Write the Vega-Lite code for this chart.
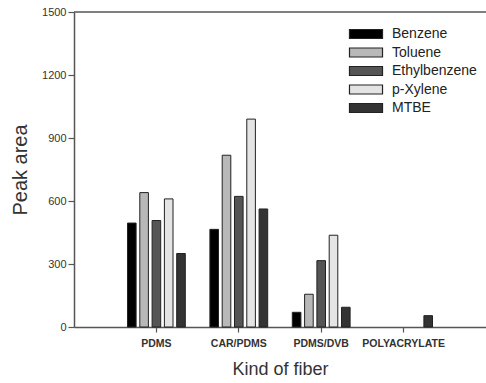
{
  "$schema": "https://vega.github.io/schema/vega-lite/v6.json",
  "width": 412,
  "height": 315,
  "autosize": {"type": "none"},
  "padding": {"left": 74, "top": 12, "right": 0, "bottom": 56},
  "background": "white",
  "config": {
    "view": {"stroke": null},
    "font": "Liberation Sans",
    "axis": {"grid": false, "domainColor": "#555", "domainWidth": 1.5, "tickColor": "#555", "tickWidth": 1.2, "labelColor": "#333", "titleColor": "#333", "titleFontWeight": "normal", "labelFont": "Liberation Sans", "titleFont": "Liberation Sans"}
  },
  "layer": [
    {
      "data": {"values": [
        {"fiber": "PDMS", "compound": "Benzene", "area": 495},
        {"fiber": "PDMS", "compound": "Toluene", "area": 640},
        {"fiber": "PDMS", "compound": "Ethylbenzene", "area": 507},
        {"fiber": "PDMS", "compound": "p-Xylene", "area": 610},
        {"fiber": "PDMS", "compound": "MTBE", "area": 350},
        {"fiber": "CAR/PDMS", "compound": "Benzene", "area": 465},
        {"fiber": "CAR/PDMS", "compound": "Toluene", "area": 818},
        {"fiber": "CAR/PDMS", "compound": "Ethylbenzene", "area": 622},
        {"fiber": "CAR/PDMS", "compound": "p-Xylene", "area": 990},
        {"fiber": "CAR/PDMS", "compound": "MTBE", "area": 562},
        {"fiber": "PDMS/DVB", "compound": "Benzene", "area": 70},
        {"fiber": "PDMS/DVB", "compound": "Toluene", "area": 156},
        {"fiber": "PDMS/DVB", "compound": "Ethylbenzene", "area": 316},
        {"fiber": "PDMS/DVB", "compound": "p-Xylene", "area": 437},
        {"fiber": "PDMS/DVB", "compound": "MTBE", "area": 94},
        {"fiber": "POLYACRYLATE", "compound": "MTBE", "area": 54}
      ]},
      "mark": {"type": "bar", "stroke": "#222", "strokeWidth": 1},
      "encoding": {
        "x": {
          "field": "fiber", "type": "nominal",
          "scale": {"domain": ["PDMS", "CAR/PDMS", "PDMS/DVB", "POLYACRYLATE"], "paddingInner": 0, "paddingOuter": 0.5},
          "axis": {"title": "Kind of fiber", "labelAngle": 0, "labelFontSize": 10.5, "labelFontWeight": "bold", "tickSize": 5, "labelPadding": 6, "titleFontSize": 18, "titlePadding": 12}
        },
        "xOffset": {
          "field": "compound", "type": "nominal",
          "scale": {"domain": ["Benzene", "Toluene", "Ethylbenzene", "p-Xylene", "MTBE"], "paddingInner": 0.3, "paddingOuter": 1.77}
        },
        "y": {
          "field": "area", "type": "quantitative",
          "scale": {"domain": [0, 1500], "nice": false},
          "axis": {"title": "Peak area", "values": [0, 300, 600, 900, 1200, 1500], "format": "d", "labelFontSize": 11, "tickSize": 6, "labelPadding": 2, "titleFontSize": 20, "titlePadding": 11}
        },
        "color": {
          "field": "compound", "type": "nominal",
          "scale": {"domain": ["Benzene", "Toluene", "Ethylbenzene", "p-Xylene", "MTBE"], "range": ["#000000", "#b8b8b8", "#555555", "#e4e4e4", "#333333"]},
          "legend": {
            "title": null, "orient": "none", "legendX": 285, "legendY": 15,
            "symbolType": "M-3.67,-1H3.67V1H-3.67Z", "symbolSize": 81,
            "symbolStrokeColor": "#222", "symbolStrokeWidth": 1.2,
            "labelOffset": 19, "labelFontSize": 14, "labelColor": "#222",
            "rowPadding": 4.5, "padding": 0
          }
        }
      }
    },
    {
      "data": {"values": [{"top": 1500}]},
      "mark": {"type": "rule", "color": "#555", "strokeWidth": 1.5},
      "encoding": {"y": {"field": "top", "type": "quantitative"}}
    }
  ]
}
